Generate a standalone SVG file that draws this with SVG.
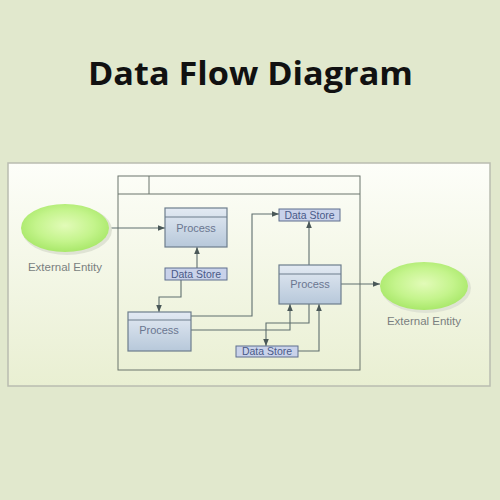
<svg xmlns="http://www.w3.org/2000/svg" width="500" height="500" viewBox="0 0 500 500">
<defs>
<linearGradient id="panelG" x1="0" y1="0" x2="0" y2="1">
<stop offset="0" stop-color="#fdfef9"/>
<stop offset="1" stop-color="#e9efd2"/>
</linearGradient>
<linearGradient id="procG" x1="0" y1="0" x2="0" y2="1">
<stop offset="0" stop-color="#e3eaf3"/>
<stop offset="1" stop-color="#b7c8da"/>
</linearGradient>
<radialGradient id="entG" cx="0.5" cy="0.45" r="0.55">
<stop offset="0" stop-color="#e2fbb8"/>
<stop offset="0.6" stop-color="#c4f48c"/>
<stop offset="1" stop-color="#a9e86a"/>
</radialGradient>
<marker id="arr" viewBox="0 0 10 10" refX="10" refY="5" markerWidth="9" markerHeight="7" orient="auto" markerUnits="userSpaceOnUse">
<path d="M0,1 L10,5 L0,9 z" fill="#4a5858"/>
</marker>
<style>
.title{font-family:"Open Sans",Lato,sans-serif;font-weight:bold;font-size:33px;fill:#111}
.proc{fill:url(#procG);stroke:#6d7d8c;stroke-width:1.2}
.hdr{stroke:#6d7d8c;stroke-width:1}
.ptxt{font-family:"Liberation Sans",Arial,sans-serif;font-size:11px;fill:#6a7690;text-anchor:middle}
.ds{fill:#c9d2ea;stroke:#5f6f8e;stroke-width:1}
.dtxt{font-family:"Liberation Sans",Arial,sans-serif;font-size:10.5px;fill:#4a5a88;text-anchor:middle}
.etxt{font-family:"Liberation Sans",Arial,sans-serif;font-size:11.5px;fill:#7a7f80;text-anchor:middle}
.ent{fill:url(#entG)}
.shadow{fill:#dfe3d4}
.con{fill:none;stroke:#5f6e6e;stroke-width:1.1}
</style>
</defs>
<rect width="500" height="500" fill="#e1e8cd"/>
<text class="title" x="250.5" y="85" text-anchor="middle" textLength="325" lengthAdjust="spacingAndGlyphs">Data Flow Diagram</text>
<rect x="8" y="163" width="482" height="223" fill="url(#panelG)" stroke="#b9bcb0" stroke-width="1.5"/>
<g id="boundary">
<rect x="118" y="176" width="242" height="194" fill="none" stroke="#6b746c" stroke-width="1"/>
<line x1="118" y1="194" x2="360" y2="194" stroke="#6b746c" stroke-width="1"/>
<line x1="149" y1="176" x2="149" y2="194" stroke="#6b746c" stroke-width="1"/>
</g>
<g id="connectors">
<path class="con" d="M110,228 H165" marker-end="url(#arr)"/>
<path class="con" d="M197,268 V247" marker-end="url(#arr)"/>
<path class="con" d="M181,280 V297 H159 V312" marker-end="url(#arr)"/>
<path class="con" d="M191,316 H252 V214 H279" marker-end="url(#arr)"/>
<path class="con" d="M191,330 H290 V304" marker-end="url(#arr)"/>
<path class="con" d="M309,304 V323 H266 V346" marker-end="url(#arr)"/>
<path class="con" d="M298,351 H319 V304" marker-end="url(#arr)"/>
<path class="con" d="M309,265 V221" marker-end="url(#arr)"/>
<path class="con" d="M341,284 H380" marker-end="url(#arr)"/>
</g>
<g id="entity1">
<ellipse class="shadow" cx="67" cy="230" rx="45" ry="25"/>
<ellipse class="ent" cx="65" cy="228" rx="44" ry="24"/>
<text class="etxt" x="65" y="271">External Entity</text>
</g>
<g id="entity2">
<ellipse class="shadow" cx="426" cy="288" rx="45" ry="25"/>
<ellipse class="ent" cx="424" cy="286" rx="44" ry="24"/>
<text class="etxt" x="424" y="325">External Entity</text>
</g>
<g id="process1">
<rect class="proc" x="165" y="208" width="62" height="39"/>
<line class="hdr" x1="165" y1="217" x2="227" y2="217"/>
<text class="ptxt" x="196" y="232">Process</text>
</g>
<g id="process2">
<rect class="proc" x="128" y="312" width="63" height="39"/>
<line class="hdr" x1="128" y1="320" x2="191" y2="320"/>
<text class="ptxt" x="159" y="334">Process</text>
</g>
<g id="process3">
<rect class="proc" x="279" y="265" width="62" height="39"/>
<line class="hdr" x1="279" y1="274" x2="341" y2="274"/>
<text class="ptxt" x="310" y="288">Process</text>
</g>
<g id="datastore1">
<rect class="ds" x="165" y="268" width="62" height="12"/>
<text class="dtxt" x="196" y="277.8">Data Store</text>
</g>
<g id="datastore2">
<rect class="ds" x="279" y="209" width="61" height="12"/>
<text class="dtxt" x="309.5" y="218.8">Data Store</text>
</g>
<g id="datastore3">
<rect class="ds" x="236" y="346" width="62" height="11"/>
<text class="dtxt" x="267" y="355.3">Data Store</text>
</g>
</svg>
